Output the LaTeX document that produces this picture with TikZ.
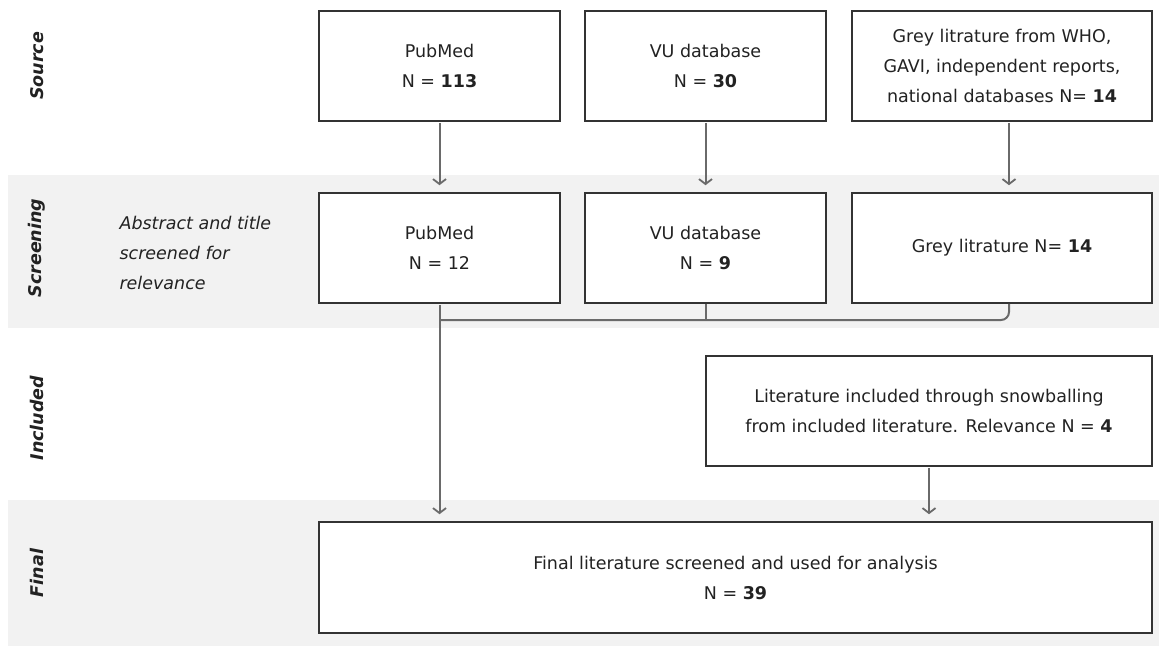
\documentclass[tikz,border=0pt]{standalone}
\usepackage{fontspec}
\setmainfont{DejaVu Sans}
\usetikzlibrary{arrows.meta}

\definecolor{bandgrey}{HTML}{F2F2F2}
\definecolor{boxline}{HTML}{333333}
\definecolor{arrline}{HTML}{6A6A6A}
\definecolor{txt}{HTML}{222222}

\begin{document}
\begin{tikzpicture}[x=1pt, y=-1pt,
        box/.style={draw=boxline, line width=1.6pt, fill=white, align=center, text=txt,
                    font=\fontsize{17.5}{30}\selectfont, minimum height=110pt, inner sep=0pt},
        rowlab/.style={rotate=90, text=txt, font=\fontsize{17.5}{20}\selectfont\bfseries\itshape},
        arr/.style={draw=arrline, line width=2pt, -{Straight Barb[length=5pt, width=13pt, line width=1.8pt]}, shorten >=7pt, shorten <=1pt},
        joinline/.style={draw=arrline, line width=2pt}]
        \useasboundingbox (0,0) rectangle (1159,646);

        % --- BANDS ---
        \fill[bandgrey] (8,175) rectangle (1159,328);
        \fill[bandgrey] (8,500) rectangle (1159,646);

        % --- ROW LABELS ---
        \node (lsource) at (37,66) [rowlab] {Source};
        \node (lscreen) at (37,248) [rowlab] {Screening};
        \node (lincl) at (37,418) [rowlab] {Included};
        \node (lfinal) at (37,573) [rowlab] {Final};
        \node (note) at (116,253) [anchor=west, align=left, text=txt, font=\fontsize{17.5}{30}\selectfont\itshape] {Abstract and title\\screened for\\relevance};

        % --- SOURCE ---
        \node (pub1) at (439.5,66) [box, minimum width=241pt] {PubMed\\N = \textbf{113}};
        \node (vu1) at (705.5,66) [box, minimum width=241pt] {VU database\\N = \textbf{30}};
        \node (grey1) at (1002,66) [box, minimum width=300pt] {Grey litrature from WHO,\\GAVI, independent reports,\\national databases N= \textbf{14}};

        % --- SCREENING ---
        \node (pub2) at (439.5,248) [box, minimum width=241pt] {PubMed\\N = 12};
        \node (vu2) at (705.5,248) [box, minimum width=241pt] {VU database\\N = \textbf{9}};
        \node (grey2) at (1002,248) [box, minimum width=300pt] {Grey litrature N= \textbf{14}};

        \draw[arr] (pub1) -- (pub2);
        \draw[arr] (vu1) -- (vu2);
        \draw[arr] ([xshift=7pt]grey1.south) -- ([xshift=7pt]grey2.north);

        % --- INCLUDED / FINAL ---
        \node (snow) at (929,411) [box, minimum width=446pt] {Literature included through snowballing\\from included literature. Relevance N = \textbf{4}};
        \node (final) at (735.5,577.5) [box, minimum width=833pt, minimum height=111pt] {Final literature screened and used for analysis\\N = \textbf{39}};

        \coordinate (jn) at (pub2.south |- 0,320);
        \draw[joinline] (vu2.south) -- (vu2.south |- jn);
        \draw[joinline, rounded corners=8pt] ([xshift=7pt]grey2.south) |- (jn);
        \draw[arr] (pub2) -- (pub2 |- final.north);
        \draw[arr] (snow) -- (snow |- final.north);
    \end{tikzpicture}
\end{document}
